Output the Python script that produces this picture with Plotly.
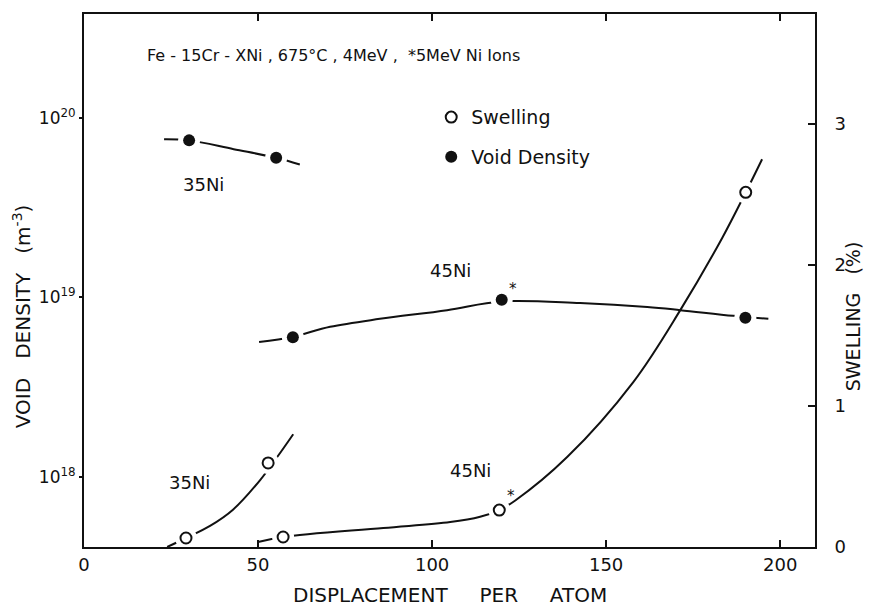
import math
import plotly.graph_objects as go

# ---------------- data ----------------
# Void density points (filled circles, left log axis, m^-3)
void35_x = [30.2, 55.2]
void35_y = [7.5e19, 6.0e19]
void45_x = [60, 120, 190]
void45_y = [6.0e18, 9.7e18, 7.7e18]

# Swelling points (open circles, right axis, %)
sw35_x = [29.3, 52.9]
sw35_y = [0.064, 0.596]
sw45_x = [57.2, 119.3, 190.1]
sw45_y = [0.071, 0.262, 2.515]

# Hand-drawn guide curves
void35_cx = [23.0, 30.2, 43.0, 55.2, 62.0]
void35_cy = [7.6e19, 7.5e19, 6.7e19, 6.0e19, 5.5e19]
void45_cx = [50.3, 59.8, 70.7, 85.0, 104.3, 119.8, 142.5, 161.8, 171.3, 186.5, 196.6]
void45_cy = [5.65e18, 6.03e18, 6.86e18, 7.6e18, 8.5e18, 9.5e18, 9.3e18, 8.85e18, 8.5e18, 7.9e18, 7.6e18]
sw35_cx = [23.9, 29.3, 36.2, 42.8, 50.6, 55.5, 60.1]
sw35_cy = [0.0, 0.064, 0.15, 0.265, 0.475, 0.638, 0.80]
sw45_cx = [50.0, 57.2, 86.0, 105.2, 113.8, 119.3, 123.9, 138.8, 157.8, 171.3, 183.3, 190.1, 194.8]
sw45_cy = [0.035, 0.071, 0.135, 0.177, 0.215, 0.262, 0.33, 0.638, 1.17, 1.68, 2.19, 2.515, 2.75]

x_ticks = [0, 50, 100, 150, 200]
void_ticks = [1e18, 1e19, 1e20]
void_ticktext = ["10<sup>18</sup>", "10<sup>19</sup>", "10<sup>20</sup>"]
sw_ticks = [0, 1, 2, 3]

FONT = "DejaVu Sans"
BLACK = "#111111"

fig = go.Figure()

# curves
for cx, cy, ax in [(void35_cx, void35_cy, "y"), (void45_cx, void45_cy, "y"),
                   (sw35_cx, sw35_cy, "y2"), (sw45_cx, sw45_cy, "y2")]:
    fig.add_trace(go.Scatter(x=cx, y=cy, yaxis=ax, mode="lines",
                             line=dict(color=BLACK, width=2, shape="spline", smoothing=1.0),
                             showlegend=False, hoverinfo="skip"))

# white halos (gaps around markers)
for px, py, ax in [(void35_x, void35_y, "y"), (void45_x, void45_y, "y"),
                   (sw35_x, sw35_y, "y2"), (sw45_x, sw45_y, "y2")]:
    fig.add_trace(go.Scatter(x=px, y=py, yaxis=ax, mode="markers",
                             marker=dict(symbol="circle", size=22, color="white", line=dict(width=0)),
                             showlegend=False, hoverinfo="skip"))

# markers
fig.add_trace(go.Scatter(x=sw35_x, y=sw35_y, yaxis="y2", mode="markers", name="Swelling", legendgroup="sw",
                         marker=dict(symbol="circle", size=11, color="white", line=dict(color=BLACK, width=2))))
fig.add_trace(go.Scatter(x=sw45_x, y=sw45_y, yaxis="y2", mode="markers", name="Swelling", legendgroup="sw",
                         showlegend=False,
                         marker=dict(symbol="circle", size=11, color="white", line=dict(color=BLACK, width=2))))
fig.add_trace(go.Scatter(x=void35_x, y=void35_y, yaxis="y", mode="markers", name="Void Density", legendgroup="vd",
                         marker=dict(symbol="circle", size=12, color=BLACK, line=dict(width=0))))
fig.add_trace(go.Scatter(x=void45_x, y=void45_y, yaxis="y", mode="markers", name="Void Density", legendgroup="vd",
                         showlegend=False,
                         marker=dict(symbol="circle", size=12, color=BLACK, line=dict(width=0))))

ann = []
def txt(x, y, t, xref="paper", yref="paper", size=18, **kw):
    ann.append(dict(x=x, y=y, xref=xref, yref=yref, text=t, showarrow=False,
                    xanchor="center", yanchor="middle",
                    font=dict(family=FONT, size=size, color=BLACK), **kw))

txt(0.341, 0.923, "Fe - 15Cr - XNi , 675°C , 4MeV ,  *5MeV Ni Ions", size=16)
txt(34.2, math.log10(4.24e19), "35Ni", xref="x", yref="y")
txt(105.2, math.log10(1.41e19), "45Ni", xref="x", yref="y")
txt(30.2, 0.46, "35Ni", xref="x", yref="y2")
txt(110.9, 0.546, "45Ni", xref="x", yref="y2")
txt(123.3, math.log10(1.12e19), "*", xref="x", yref="y", size=15)
txt(122.6, 0.36, "*", xref="x", yref="y2", size=15)
txt(-0.0848, 0.433, "VOID   DENSITY   (m<sup>-3</sup>)", textangle=-90, size=20)
txt(1.052, 0.433, "SWELLING   (%)", textangle=-90, size=19)
txt(0.5007, -0.09, "DISPLACEMENT     PER     ATOM", size=20)

fig.update_layout(
    width=869, height=610,
    margin=dict(l=84, r=54, t=14, b=63),
    paper_bgcolor="white", plot_bgcolor="white",
    font=dict(family=FONT, size=18, color=BLACK),
    annotations=ann,
    showlegend=True,
    legend=dict(x=0.475, y=0.842, xanchor="left", yanchor="top", bgcolor="rgba(0,0,0,0)",
                font=dict(family=FONT, size=19, color=BLACK), tracegroupgap=12, itemwidth=30),
    xaxis=dict(range=[0, 210], tickvals=x_ticks, ticks="inside", ticklen=7, tickwidth=1.5, tickcolor=BLACK,
               showline=True, linewidth=2, linecolor=BLACK, mirror="ticks", showgrid=False, zeroline=False,
               tickfont=dict(size=18)),
    yaxis=dict(type="log", range=[17.61, 20.579], tickvals=void_ticks, ticktext=void_ticktext,
               ticks="outside", ticklen=3, tickwidth=1.5, tickcolor=BLACK,
               showline=True, linewidth=2, linecolor=BLACK, showgrid=False, zeroline=False,
               tickfont=dict(size=17)),
    yaxis2=dict(overlaying="y", side="right", range=[0, 3.78], tickvals=sw_ticks, ticks="inside", ticklen=7,
                tickwidth=1.5, tickcolor=BLACK, showline=True, linewidth=2, linecolor=BLACK,
                showgrid=False, zeroline=False, tickfont=dict(size=18), ticklabelstandoff=14),
)

fig.write_html("out.html")
